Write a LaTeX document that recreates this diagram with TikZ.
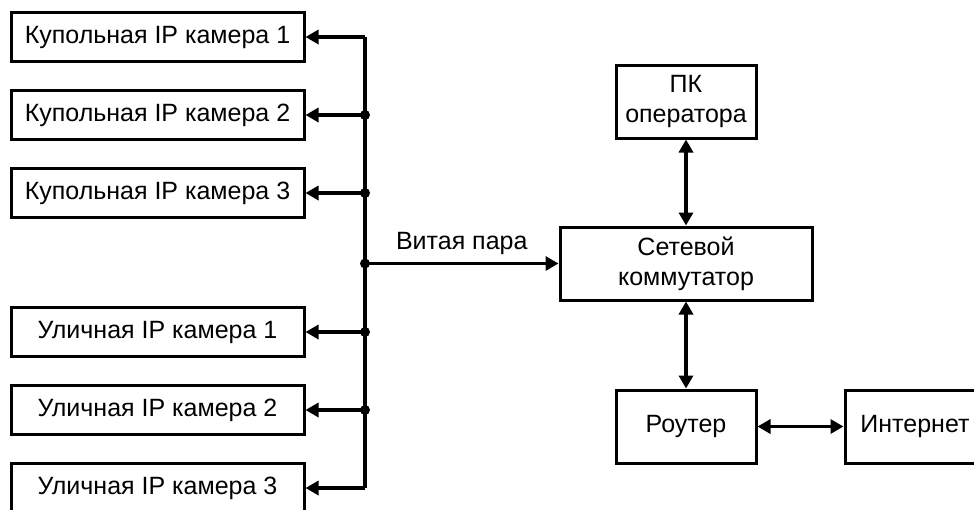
\documentclass[tikz,border=0pt]{standalone}
\usepackage{fontspec}
\setmainfont{Liberation Sans}
\usepackage{tikz}
\usetikzlibrary{positioning, arrows.meta}

\begin{document}
\begin{tikzpicture}
	[x=1pt, y=-1pt, on grid, node distance=78pt,
	 box/.style={draw, line width=3pt, align=center, inner sep=0pt,
	   font=\fontsize{25}{30}\selectfont},
	 cam/.style={box, minimum width=293pt, minimum height=49pt},
	 dev/.style={box, minimum width=140pt, minimum height=73pt},
	 wire/.style={line width=3.5pt, >={Triangle[length=13pt,width=14pt]}}]
   \path[use as bounding box, clip] (0,0) rectangle (974,509);
   \node[cam] (kup1) at (157.5,37) {Купольная IP камера 1};
   \node[cam] (kup2) [below=of kup1] {Купольная IP камера 2};
   \node[cam] (kup3) [below=of kup2] {Купольная IP камера 3};
   \node[cam] (ul1) [below=139pt of kup3] {Уличная IP камера 1};
   \node[cam] (ul2) [below=of ul1] {Уличная IP камера 2};
   \node[cam] (ul3) [below=of ul2] {Уличная IP камера 3};

   \node[box, minimum width=252pt, minimum height=73pt] (sw) at (686,263.5) {Сетевой\\коммутатор};
   \node[dev] (pc) [above=162pt of sw] {ПК\\оператора};
   \node[dev] (router) [below=163pt of sw] {Роутер};
   \node[dev] (inet) [right=229pt of router] {Интернет};

   \coordinate (bus) at (365,263.5);
   \draw[wire] (bus |- kup1) -- (bus |- ul3);
   \foreach \c in {kup1,kup2,kup3,ul1,ul2,ul3}
      \draw[wire, ->] (bus |- \c) -- (\c.east);
   \foreach \c in {kup2,kup3,ul1,ul2}
      \fill (bus |- \c) circle (5pt);
   \fill (bus) circle (5pt);
   \draw[wire, ->] (bus) -- node[above=4pt] {\fontsize{25}{30}\selectfont Витая пара} (sw);

   \path[wire, <->]
    (pc) edge (sw)
    (sw) edge (router)
    (router) edge (inet);
\end{tikzpicture}
\end{document}
